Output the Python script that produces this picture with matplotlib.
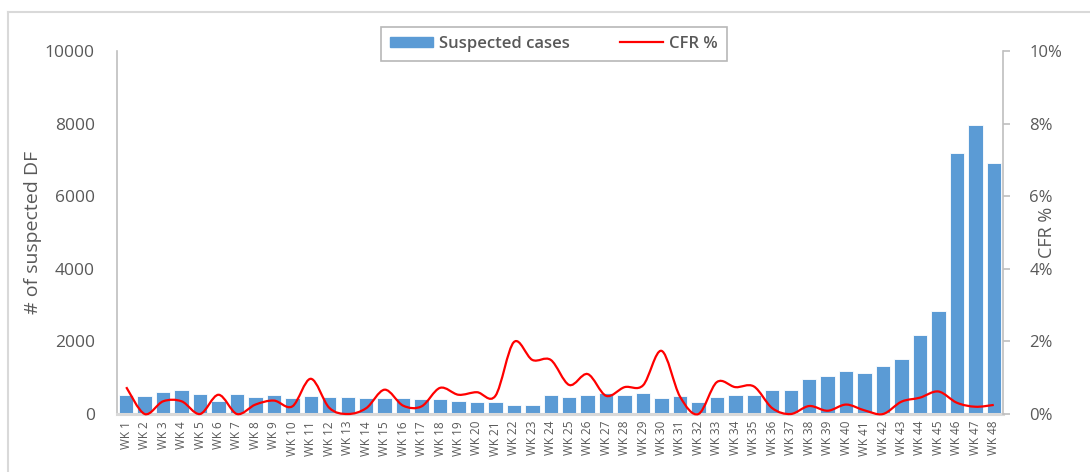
import numpy as np
import matplotlib
matplotlib.use("Agg")
import matplotlib.pyplot as plt
from matplotlib.path import Path
from matplotlib.patches import PathPatch, Patch
from matplotlib.lines import Line2D

plt.rcParams['font.family'] = ['Open Sans', 'DejaVu Sans']

weeks = ["WK %d" % i for i in range(1, 49)]

# suspected dengue fever cases per week
cases = [530, 505, 615, 650, 560, 360, 560, 477, 532, 450,
         505, 477, 477, 450, 450, 450, 420, 420, 360, 330,
         330, 248, 248, 532, 477, 532, 578, 532, 587, 450,
         505, 330, 477, 532, 525, 661, 661, 955, 1038, 1175,
         1120, 1322, 1523, 2176, 2837, 7198, 7970, 6915]

# case fatality rate, %
cfr = [0.74, 0.0, 0.35, 0.35, 0.0, 0.53, 0.0, 0.26, 0.37, 0.21,
       0.97, 0.17, 0.0, 0.16, 0.67, 0.23, 0.21, 0.72, 0.53, 0.60,
       0.50, 1.98, 1.49, 1.49, 0.80, 1.10, 0.50, 0.74, 0.79, 1.74,
       0.48, 0.0, 0.88, 0.74, 0.76, 0.16, 0.0, 0.22, 0.09, 0.26,
       0.10, 0.0, 0.34, 0.45, 0.62, 0.31, 0.20, 0.25]

left_ticks = [0, 2000, 4000, 6000, 8000, 10000]
right_ticks = [0, 2, 4, 6, 8, 10]

BAR = "#5B9BD5"
GREY = "#595959"
AXC = "#BFBFBF"

fig = plt.figure(figsize=(10.9, 4.72), dpi=100)
ax = fig.add_axes([117/1090, 1 - 414/472, (1003 - 117)/1090, (414 - 51)/472])
x = np.arange(len(weeks))
ax.bar(x, cases, width=0.78, color=BAR, edgecolor="white", linewidth=0.6, zorder=2)
ax.set_xlim(-0.5, len(weeks) - 0.5)
ax.set_ylim(0, 10000)
ax.set_yticks(left_ticks)
ax.set_yticklabels([str(t) for t in left_ticks], color=GREY, fontsize=12.5)
ax.set_xticks(x)
ax.set_xticklabels(weeks, rotation=90, fontsize=8.5, color=GREY)
ax.tick_params(axis='x', length=0, pad=5)
ax.tick_params(axis='y', length=0, pad=16)
for s in ["top", "right"]:
    ax.spines[s].set_visible(False)
ax.spines["left"].set_color(AXC)
ax.spines["left"].set_linewidth(1.2)
ax.spines["bottom"].set_color("#D9D9D9")
ax.spines["bottom"].set_linewidth(2.2)
ax.set_ylabel("# of suspected DF", fontsize=14, color=GREY)
ax.yaxis.set_label_coords(-0.085, 0.5)

ax2 = ax.twinx()
ax2.set_ylim(0, 10)
ax2.set_yticks(right_ticks)
ax2.set_yticklabels(["%d%%" % t for t in right_ticks], color=GREY, fontsize=12)
ax2.tick_params(axis='y', length=5, color=AXC, width=1.2, pad=14)
for s in ["top", "left", "bottom"]:
    ax2.spines[s].set_visible(False)
ax2.spines["right"].set_color(AXC)
ax2.spines["right"].set_linewidth(1.2)
ax2.set_ylabel("CFR %", fontsize=13, color=GREY)
ax2.yaxis.set_label_coords(1.039, 0.5)

# smoothed line (Excel-style bezier through the points)
y = np.array(cfr, dtype=float)
verts = [(x[0], y[0])]
codes = [Path.MOVETO]
n = len(y)
for i in range(n - 1):
    p0 = (x[max(i - 1, 0)], y[max(i - 1, 0)])
    p1 = (x[i], y[i])
    p2 = (x[i + 1], y[i + 1])
    p3 = (x[min(i + 2, n - 1)], y[min(i + 2, n - 1)])
    c1 = (p1[0] + (p2[0] - p0[0]) / 6, p1[1] + (p2[1] - p0[1]) / 6)
    c2 = (p2[0] - (p3[0] - p1[0]) / 6, p2[1] - (p3[1] - p1[1]) / 6)
    verts += [c1, c2, p2]
    codes += [Path.CURVE4] * 3
ax2.add_patch(PathPatch(Path(verts, codes), facecolor="none", edgecolor="#FF0000",
                        linewidth=1.6, zorder=3, clip_on=False))

handles = [Patch(facecolor=BAR, edgecolor=BAR),
           Line2D([0], [0], color="#FF0000", lw=1.6)]
leg = fig.legend(handles, ["Suspected cases", "CFR %"], loc="center",
                 bbox_to_anchor=(554/1090, 1 - 44/472), ncol=2, frameon=True,
                 fancybox=False, fontsize=12, handlelength=2.6, handleheight=0.6,
                 columnspacing=3.0, borderpad=0.55, borderaxespad=0,
                 handletextpad=0.35)
leg.get_frame().set_edgecolor("#A6A6A6")
leg.get_frame().set_linewidth(1.2)
for t in leg.get_texts():
    t.set_color(GREY)
    t.set_fontweight("semibold")

# chart area border
fig.add_artist(Line2D([8/1090, 8/1090], [0, 1 - 12/472], color="#D9D9D9", lw=1.5,
                      transform=fig.transFigure))
fig.add_artist(Line2D([8/1090, 1], [1 - 12/472, 1 - 12/472], color="#D9D9D9", lw=1.5,
                      transform=fig.transFigure))

fig.savefig("out.png", dpi=100)
